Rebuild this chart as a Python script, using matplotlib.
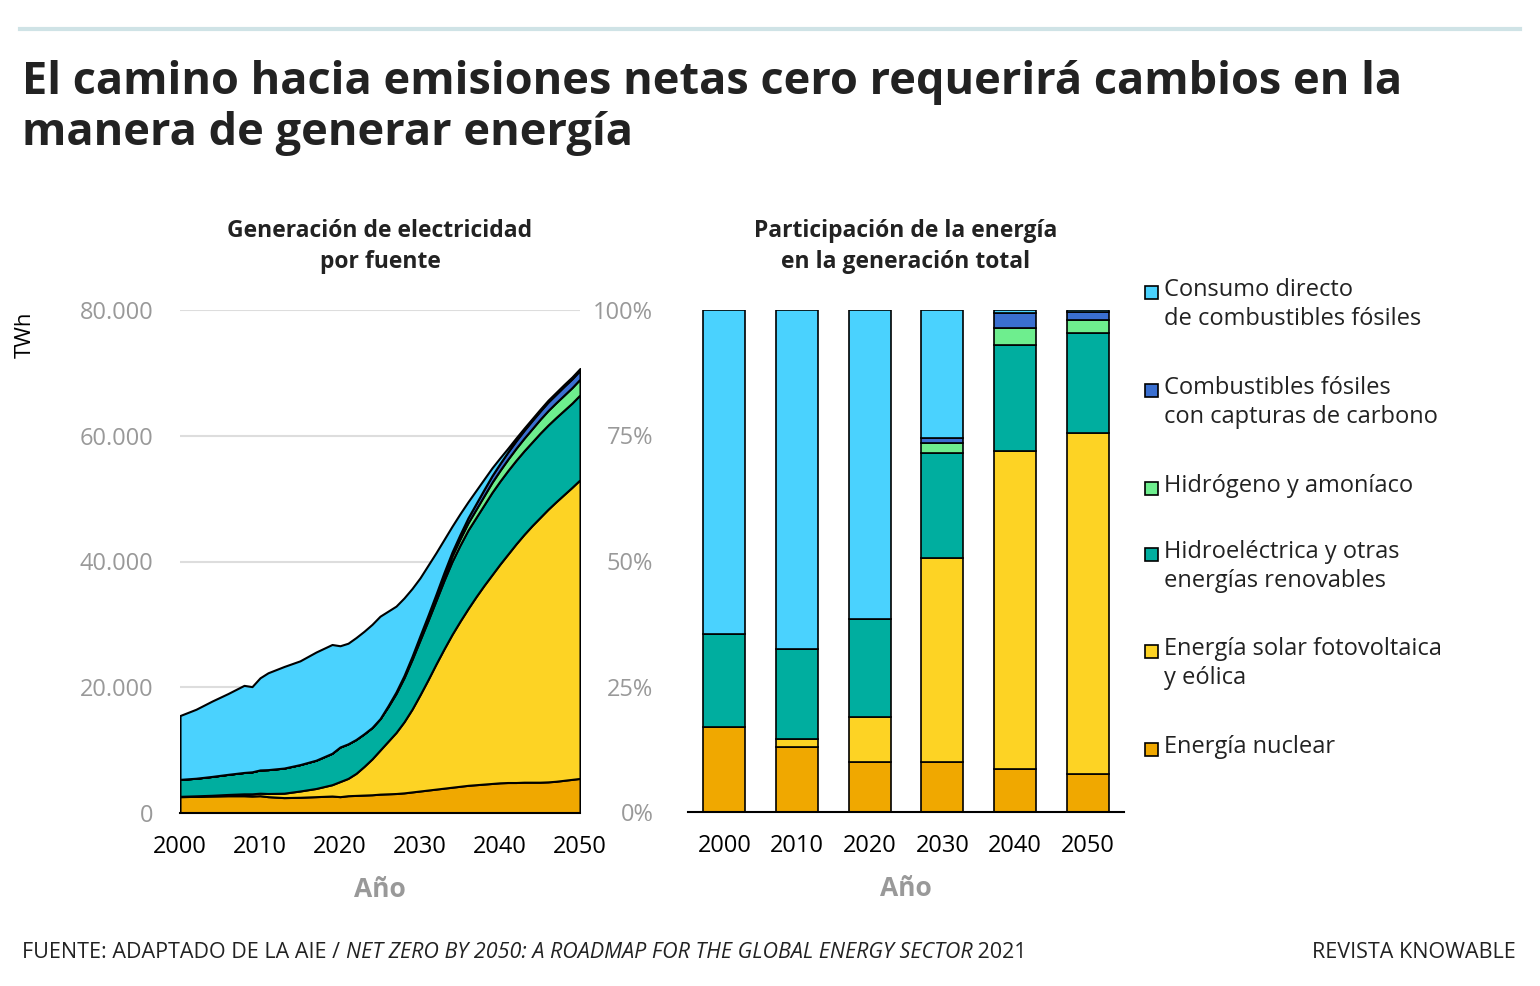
import matplotlib
matplotlib.use("Agg")
import matplotlib.pyplot as plt
import numpy as np
from matplotlib.patches import Rectangle
from matplotlib.ticker import FuncFormatter

plt.rcParams['font.family'] = ['Open Sans', 'DejaVu Sans']

years = [2000,2002,2004,2006,2008,2009,2010,2011,2013,2015,2017,2019] + list(range(2020, 2051))
nuclear = [2600,2650,2700,2750,2750,2700,2750,2600,2450,2500,2600,2700,
           2600,2750,2800,2850,2900,3000,3050,3100,3200,3350,3500,3650,3800,3950,4100,4250,4400,4500,4600,4700,
           4800,4850,4850,4900,4900,4900,4950,5050,5200,5350,5500]
solar = [50,80,120,200,300,350,400,500,700,1000,1300,1800,
         2400,2750,3500,4550,5700,7000,8350,9700,11300,13150,15300,17550,19900,22150,24300,26250,28100,29900,31600,33200,
         34800,36350,37950,39400,40800,42100,43350,44450,45450,46450,47500]
hydro = [2700,2800,3000,3200,3400,3500,3700,3800,4000,4200,4500,5000,
         5500,5500,5400,5200,5000,5000,5500,6200,7000,7900,8700,9400,10100,10900,11600,12100,12500,12600,12800,13100,
         13200,13300,13300,13300,13300,13400,13400,13400,13400,13400,13500]
hydrogen = [0]*12 + [0,0,0,0,0,0,100,150,200,300,400,500,600,750,900,1000,1150,1300,1450,1600,
                     1700,1800,1900,2000,2100,2200,2300,2350,2400,2450,2500]
ccs = [0]*12 + [0,0,0,0,0,0,50,100,150,200,300,350,400,500,600,700,800,900,1000,1050,
                1100,1150,1200,1250,1300,1300,1350,1350,1400,1400,1400]
fossil = [10150,10970,11980,12850,13850,13550,14650,15400,16150,16500,17200,17300,
          16100,16000,16200,16300,16400,16300,15050,13650,12350,10800,9200,7950,6600,5250,4100,3300,2550,2100,1650,1250,
          900,600,450,350,300,300,300,300,300,300,300]

bar_years = ['2000','2010','2020','2030','2040','2050']
p_nuclear = [17,13,10,10,8.5,7.5]
p_solar = [0,1.5,9,40.5,63.5,68]
p_hydro = [18.5,18,19.5,21,21,20]
p_hydrogen = [0,0,0,2,3.5,2.5]
p_ccs = [0,0,0,1,3,1.7]
p_fossil = [64.5,67.5,61.5,25.5,0.5,0.3]

labels = ['Consumo directo\nde combustibles fósiles', 'Combustibles fósiles\ncon capturas de carbono',
          'Hidrógeno y amoníaco', 'Hidroeléctrica y otras\nenergías renovables',
          'Energía solar fotovoltaica\ny eólica', 'Energía nuclear']
colors = ['#4AD2FE', '#3A6FD0', '#6EEE8E', '#00AE9F', '#FDD324', '#F0A800']

fig = plt.figure(figsize=(15.4, 9.86), dpi=100)
W, H = 1540, 986
def ax_rect(x0, x1, ytop, ybot):
    return [x0/W, 1-ybot/H, (x1-x0)/W, (ybot-ytop)/H]

dark = '#222222'
fig.add_artist(plt.Line2D([20/W, 1520/W], [1-29/H, 1-29/H], color='#CFE3E6', lw=3))
fig.text(22/W, 1-108/H, 'El camino hacia emisiones netas cero requerirá cambios en la\nmanera de generar energía',
         fontsize=32.5, fontweight='bold', color=dark, va='center', linespacing=1.2)

gray = '#999999'
# Left chart
ax = fig.add_axes(ax_rect(180, 580, 310, 813))
series = [nuclear, solar, hydro, hydrogen, ccs, fossil]
scol = colors[::-1]
ax.stackplot(years, *series, colors=scol, edgecolor='black', linewidth=1.5)
ax.set_xlim(2000, 2050)
ax.set_ylim(0, 80000)
ax.set_yticks([0, 20000, 40000, 60000, 80000])
ax.yaxis.set_major_formatter(FuncFormatter(lambda v, p: f'{int(v):,}'.replace(',', '.')))
ax.set_xticks([2000, 2010, 2020, 2030, 2040, 2050])
for s in ['top', 'right', 'left']:
    ax.spines[s].set_visible(False)
ax.spines['bottom'].set_linewidth(1.5)
ax.grid(axis='y', color='#DDDDDD', lw=1.5)
ax.set_axisbelow(True)
ax.tick_params(axis='y', length=0, labelsize=17, labelcolor=gray, pad=19)
ax.tick_params(axis='x', length=0, labelsize=17, pad=16)
ax.set_xlabel('Año', fontsize=19, fontweight='bold', color=gray, labelpad=12)
ax.set_ylabel('TWh', fontsize=16)
ax.yaxis.set_label_coords(-0.36, 0.95)
ax.set_title('Generación de electricidad\npor fuente', fontsize=16.5, fontweight='bold', pad=30, color=dark, linespacing=1.4)

# Right chart
ax2 = fig.add_axes(ax_rect(688, 1124, 310, 812))
x = np.arange(len(bar_years))
bottom = np.zeros(len(bar_years))
for vals, c in zip([p_nuclear, p_solar, p_hydro, p_hydrogen, p_ccs, p_fossil], scol):
    ax2.bar(x, vals, bottom=bottom, width=0.58, color=c, edgecolor='black', linewidth=1.2)
    bottom += np.array(vals)
ax2.set_xlim(-0.5, 5.5)
ax2.set_ylim(0, 100)
ax2.set_yticks([0, 25, 50, 75, 100])
ax2.set_yticklabels(['0%', '25%', '50%', '75%', '100%'])
ax2.set_xticks(x)
ax2.set_xticklabels(bar_years)
for s in ['top', 'right', 'left']:
    ax2.spines[s].set_visible(False)
ax2.spines['bottom'].set_linewidth(1.5)
ax2.tick_params(axis='y', length=0, labelsize=17, labelcolor=gray, pad=25)
ax2.tick_params(axis='x', length=0, labelsize=17, pad=16)
ax2.set_xlabel('Año', fontsize=19, fontweight='bold', color=gray, labelpad=12)
ax2.set_title('Participación de la energía\nen la generación total', fontsize=16.5, fontweight='bold', pad=30,
              color=dark, linespacing=1.4)

# Legend
ly = [292, 390, 488, 554, 651, 749]
for lab, c, y in zip(labels, colors, ly):
    fig.add_artist(Rectangle((1145/W, 1-(y+7)/H), 13/W, 13/H, facecolor=c, edgecolor='black', lw=1.2))
    fig.text(1164/W, 1-(y-14)/H, lab, fontsize=17, va='top', color=dark, linespacing=1.3)

fy = 1-953/H
fs = 15.5
t1 = fig.text(22/W, fy, 'FUENTE: ADAPTADO DE LA AIE / ', fontsize=fs, va='center', color=dark)
fig.canvas.draw()
r = fig.canvas.get_renderer()
bb = t1.get_window_extent(r)
t2 = fig.text(bb.x1/W, fy, 'NET ZERO BY 2050: A ROADMAP FOR THE GLOBAL ENERGY SECTOR', fontsize=fs, va='center',
              color=dark, style='italic')
bb2 = t2.get_window_extent(r)
fig.text(bb2.x1/W, fy, ' 2021', fontsize=fs, va='center', color=dark)
fig.text(1516/W, fy, 'REVISTA KNOWABLE', fontsize=fs, va='center', ha='right', color=dark)

fig.savefig('out.png', dpi=100)
